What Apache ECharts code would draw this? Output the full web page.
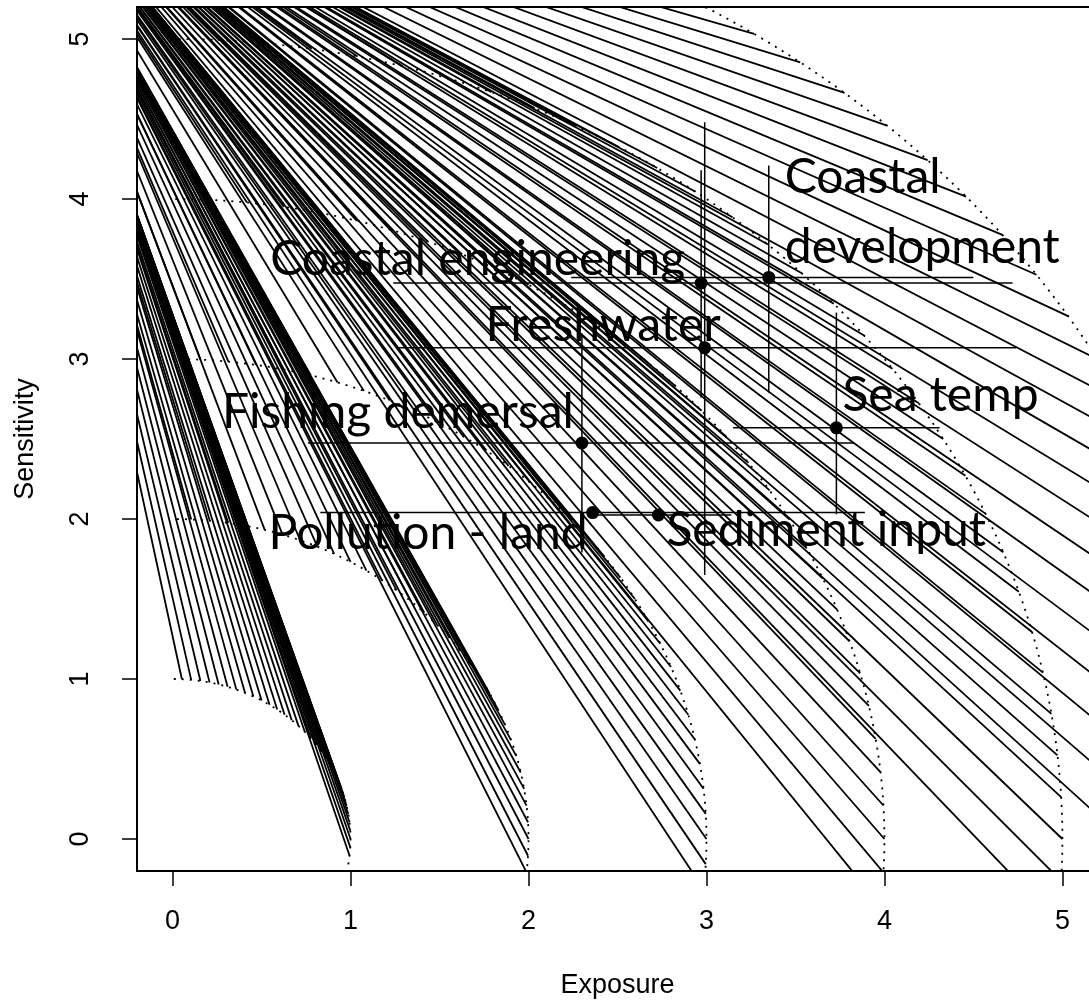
<!DOCTYPE html>
<html>
<head>
<meta charset="utf-8">
<script src="https://cdn.jsdelivr.net/npm/echarts@6/dist/echarts.min.js"></script>
<style>
  html, body { margin: 0; padding: 0; background: #fff; }
  #chart { width: 1089px; height: 1006px; }
</style>
</head>
<body>
<div id="chart"></div>
<script>
// Risk isopleths: quarter circles of equal Euclidean risk, sqrt(E^2 + S^2)
const riskRadii = [1, 2, 3, 4, 5, 6];
// Angles (degrees) of the points on each isopleth that receive a sight line
const rayAngles = [-6, -3, 0, 3, 6, 9, 12, 15, 18, 21, 24, 27, 30, 33, 36, 39,
                   42, 45, 48, 51, 54, 57, 60, 63, 66, 69, 72, 75, 78, 81, 84, 87];
// Common origin of the sight lines (exposure, sensitivity)
const rayOrigin = [-1.0, 6.4];

// Stressors: mean exposure / sensitivity with their ranges
const stressorNames = ['Coastal development', 'Coastal engineering', 'Freshwater', 'Sea temp',
                       'Fishing demersal', 'Pollution - land', 'Sediment input'];
const stressorLabels = ['Coastal\ndevelopment', 'Coastal engineering', 'Freshwater', 'Sea temp',
                        'Fishing demersal', 'Pollution - land', 'Sediment input'];
const exposureMean = [3.35, 2.97, 2.99, 3.73, 2.30, 2.36, 2.73];
const exposureLow  = [2.24, 1.24, 1.26, 3.15, 0.76, 0.83, 2.33];
const exposureHigh = [4.50, 4.72, 4.74, 4.31, 3.83, 3.89, 3.14];
const sensitivityMean = [3.51, 3.475, 3.07, 2.57, 2.475, 2.04, 2.025];
const sensitivityLow  = [2.79, 2.76, 1.65, 2.03, 1.79, 2.04, 2.025];
const sensitivityHigh = [4.21, 4.18, 4.48, 3.29, 3.16, 2.04, 2.025];

// Tick values shared by both axes
const tickValues = [0, 1, 2, 3, 4, 5];

// ---- styling / placement of the stressor labels ----
const labelLayout = {
  'Coastal development': { align: 'left',  offset: [16, -65] },
  'Coastal engineering': { align: 'right', offset: [-16, -23] },
  'Freshwater':          { align: 'right', offset: [16, -22] },
  'Sea temp':            { align: 'left',  offset: [6, -32] },
  'Fishing demersal':    { align: 'right', offset: [-8, -30] },
  'Pollution - land':    { align: 'right', offset: [-5, 21] },
  'Sediment input':      { align: 'left',  offset: [8, 16] }
};

const axisFont = "'Liberation Sans', Arial, sans-serif";
const labelFont = "Lato, 'Open Sans', sans-serif";

// Sight lines: from the common origin to each point of each isopleth
const rayData = [];
riskRadii.forEach(function (r) {
  rayAngles.forEach(function (deg) {
    const t = deg * Math.PI / 180;
    rayData.push([rayOrigin[0], rayOrigin[1], r * Math.cos(t), r * Math.sin(t)]);
  });
});

const circleData = riskRadii.map(function (r) { return [r, 0]; });

const barData = stressorNames.map(function (n, i) {
  return [exposureMean[i], sensitivityMean[i], exposureLow[i], exposureHigh[i],
          sensitivityLow[i], sensitivityHigh[i]];
});

const pointData = stressorNames.map(function (n, i) {
  const lay = labelLayout[n];
  return {
    name: n,
    value: [exposureMean[i], sensitivityMean[i]],
    label: {
      show: true,
      formatter: stressorLabels[i],
      position: 'inside',
      align: lay.align,
      verticalAlign: 'middle',
      offset: lay.offset
    }
  };
});

const chart = echarts.init(document.getElementById('chart'), null, { renderer: 'canvas' });

const option = {
  animation: false,
  backgroundColor: '#ffffff',
  grid: {
    left: 137, top: 7, width: 961, height: 864,
    show: true, borderColor: '#000', borderWidth: 2, backgroundColor: 'transparent',
    outerBoundsMode: 'none'
  },
  xAxis: {
    type: 'value', min: -0.2, max: 5.2,
    name: 'Exposure', nameLocation: 'middle', nameGap: 101,
    nameTextStyle: { fontFamily: axisFont, fontSize: 27, color: '#000' },
    axisLine: { show: false, onZero: false },
    splitLine: { show: false },
    axisTick: { show: true, inside: false, length: 15, customValues: tickValues,
                lineStyle: { color: '#000', width: 1.5 } },
    axisLabel: { customValues: tickValues, fontFamily: axisFont, fontSize: 27,
                 color: '#000', margin: 37 }
  },
  yAxis: {
    type: 'value', min: -0.2, max: 5.2,
    name: 'Sensitivity', nameLocation: 'middle', nameGap: 98, nameRotate: 90,
    nameTextStyle: { fontFamily: axisFont, fontSize: 27, color: '#000' },
    axisLine: { show: false, onZero: false },
    splitLine: { show: false },
    axisTick: { show: true, inside: false, length: 15, customValues: tickValues,
                lineStyle: { color: '#000', width: 1.5 } },
    axisLabel: { customValues: tickValues, fontFamily: axisFont, fontSize: 27,
                 color: '#000', margin: 43, rotate: 90 }
  },
  series: [
    {
      // sight lines
      type: 'custom',
      clip: true,
      silent: true,
      data: rayData,
      encode: { x: [0, 2], y: [1, 3] },
      renderItem: function (params, api) {
        const p0 = api.coord([api.value(0), api.value(1)]);
        const p1 = api.coord([api.value(2), api.value(3)]);
        return {
          type: 'line',
          shape: { x1: p0[0], y1: p0[1], x2: p1[0], y2: p1[1] },
          style: { stroke: '#000', lineWidth: 1.8 }
        };
      },
      z: 2
    },
    {
      // dotted risk isopleths
      type: 'custom',
      clip: true,
      silent: true,
      data: circleData,
      encode: { x: 0, y: 1 },
      renderItem: function (params, api) {
        const r = api.value(0);
        const pts = [];
        for (let d = -12; d <= 90; d += 0.5) {
          const t = d * Math.PI / 180;
          pts.push(api.coord([r * Math.cos(t), r * Math.sin(t)]));
        }
        return {
          type: 'polyline',
          shape: { points: pts },
          style: { stroke: '#000', lineWidth: 1.8, fill: null, lineDash: [2, 6] }
        };
      },
      z: 3
    },
    {
      // exposure / sensitivity ranges
      type: 'custom',
      clip: true,
      silent: true,
      data: barData,
      encode: { x: [0, 2, 3], y: [1, 4, 5] },
      renderItem: function (params, api) {
        const y = api.value(1), x = api.value(0);
        const h0 = api.coord([api.value(2), y]);
        const h1 = api.coord([api.value(3), y]);
        const v0 = api.coord([x, api.value(4)]);
        const v1 = api.coord([x, api.value(5)]);
        return {
          type: 'group',
          children: [
            { type: 'line', shape: { x1: h0[0], y1: h0[1], x2: h1[0], y2: h1[1] },
              style: { stroke: '#000', lineWidth: 1.5 } },
            { type: 'line', shape: { x1: v0[0], y1: v0[1], x2: v1[0], y2: v1[1] },
              style: { stroke: '#000', lineWidth: 1.5 } }
          ]
        };
      },
      z: 4
    },
    {
      type: 'scatter',
      data: pointData,
      symbol: 'circle',
      symbolSize: 13,
      itemStyle: { color: '#000', opacity: 1 },
      label: {
        fontFamily: labelFont, fontSize: 48, color: '#000', lineHeight: 70
      },
      emphasis: { disabled: true },
      z: 5
    }
  ]
};

chart.setOption(option);
</script>
</body>
</html>
